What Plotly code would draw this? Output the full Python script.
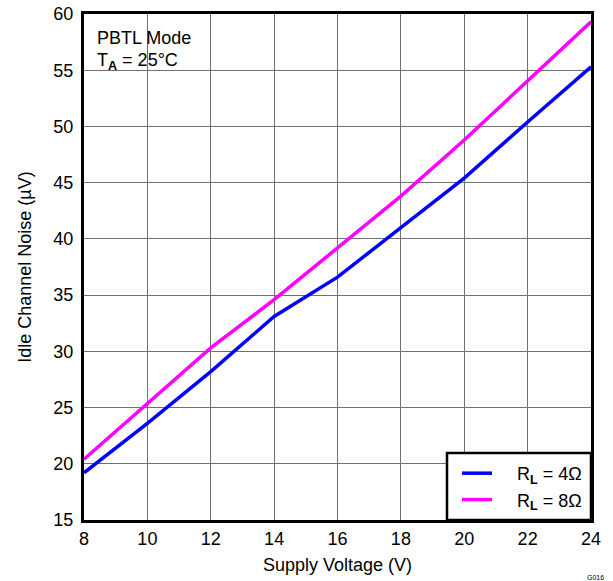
import plotly.graph_objects as go

supply_v = [8, 10, 12, 14, 16, 18, 20, 22, 24]
noise_4ohm = [19.2, 23.6, 28.2, 33.1, 36.6, 41.0, 45.4, 50.4, 55.3]
noise_8ohm = [20.4, 25.4, 30.3, 34.6, 39.2, 43.8, 48.8, 54.0, 59.3]
x_ticks = [8, 10, 12, 14, 16, 18, 20, 22, 24]
y_ticks = [15, 20, 25, 30, 35, 40, 45, 50, 55, 60]

font = "Liberation Sans, Arial, sans-serif"
fs = 18
pad = "&nbsp;" * 4

fig = go.Figure()
fig.add_trace(go.Scatter(x=supply_v, y=noise_4ohm, mode="lines",
                         line=dict(color="#0000FF", width=3.5),
                         name=pad + "R<sub><b>L</b></sub> = 4Ω"))
fig.add_trace(go.Scatter(x=supply_v, y=noise_8ohm, mode="lines",
                         line=dict(color="#FF00FF", width=3.5),
                         name=pad + "R<sub><b>L</b></sub> = 8Ω"))

fig.update_layout(
    width=613, height=581,
    margin=dict(l=84, r=22, t=14, b=61, autoexpand=False),
    paper_bgcolor="white", plot_bgcolor="white",
    font=dict(family=font, size=fs, color="black"),
    showlegend=True,
    legend=dict(x=(457 - 84) / 507, y=0.004, xanchor="left", yanchor="bottom",
                bgcolor="rgba(0,0,0,0)", borderwidth=0,
                font=dict(size=fs, family=font), tracegroupgap=0),
    xaxis=dict(range=[8, 24], tickvals=x_ticks, showgrid=True,
               gridcolor="#707070", gridwidth=1, zeroline=False,
               showline=True, linecolor="black", linewidth=3, mirror=True,
               ticks="", automargin=False,
               title=dict(text="Supply Voltage (V)", font=dict(size=fs), standoff=11),
               tickfont=dict(size=fs)),
    yaxis=dict(range=[15, 60], tickvals=y_ticks, showgrid=True,
               gridcolor="#707070", gridwidth=1, zeroline=False,
               showline=True, linecolor="black", linewidth=3, mirror=True,
               ticks="", automargin=False, ticklabelstandoff=4,
               title=dict(text="Idle Channel Noise (µV)", font=dict(size=fs), standoff=18),
               tickfont=dict(size=fs)),
)

# white box behind the condition text
fig.add_shape(type="rect", xref="x", yref="y", x0=8.05, x1=11.95, y0=53.8, y1=59.9,
              fillcolor="white", line=dict(width=0), layer="below")
# legend frame
fig.add_shape(type="rect", xref="paper", yref="paper",
              x0=(447 - 84) / 507, x1=1.0, y0=0.0, y1=(520 - 453) / 506,
              fillcolor="white", line=dict(color="black", width=2.5), layer="above")
fig.add_annotation(xref="x", yref="y", x=8.35, y=57.9, xanchor="left", yanchor="middle",
                   text="PBTL Mode", showarrow=False, font=dict(size=fs, family=font))
fig.add_annotation(xref="x", yref="y", x=8.35, y=55.8, xanchor="left", yanchor="middle",
                   text="T<sub><b>A</b></sub> = 25°C", showarrow=False, font=dict(size=fs, family=font))
fig.add_annotation(xref="paper", yref="paper", x=0.988, y=-0.113, xanchor="left", yanchor="middle",
                   text="G016", showarrow=False, font=dict(size=7, family=font))

fig.write_html("out.html")
